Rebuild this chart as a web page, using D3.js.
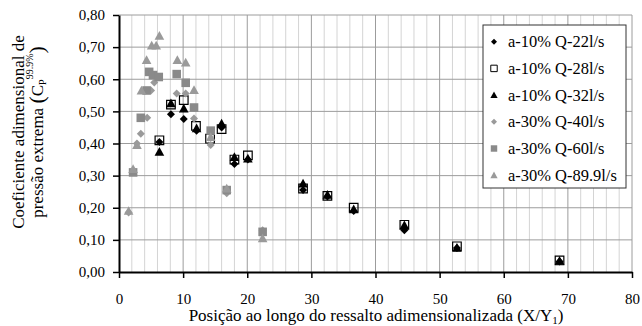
<!DOCTYPE html>
<html>
<head>
<meta charset="utf-8">
<script src="https://cdn.jsdelivr.net/npm/d3@7"></script>
<style>
  body { margin: 0; background: #fff; }
</style>
</head>
<body>
<svg id="chart" width="642" height="326"></svg>
<script>
// series data [X/Y1, Cp 99.9%]
const q22 = [[6.3,0.405],[8.1,0.491],[10.1,0.476],[12.1,0.44],[16.0,0.45],[18.0,0.336],[20.1,0.35],[28.7,0.255],[32.5,0.235],[36.6,0.19],[44.5,0.13],[52.7,0.075],[68.7,0.033]];
const q28 = [[6.3,0.41],[8.1,0.521],[10.1,0.535],[12.0,0.455],[14.2,0.415],[16.0,0.445],[18.0,0.35],[20.1,0.363],[28.7,0.26],[32.5,0.237],[36.6,0.2],[44.5,0.147],[52.7,0.08],[68.7,0.036]];
const q32 = [[6.3,0.374],[8.1,0.525],[10.1,0.509],[12.1,0.447],[16.0,0.462],[18.0,0.358],[20.1,0.353],[28.7,0.275],[32.5,0.24],[36.6,0.195],[44.5,0.145],[52.7,0.075],[68.7,0.035]];
const q40 = [[1.5,0.185],[2.8,0.40],[3.4,0.43],[4.4,0.48],[5.0,0.565],[5.5,0.59],[9.0,0.556],[10.4,0.556],[11.7,0.478],[14.3,0.395],[16.8,0.245],[22.4,0.13]];
const q60 = [[2.2,0.31],[3.4,0.48],[4.3,0.565],[4.7,0.623],[5.3,0.613],[6.2,0.607],[9.0,0.616],[10.4,0.589],[11.7,0.512],[14.3,0.44],[16.8,0.255],[22.4,0.125]];
const q899 = [[1.5,0.19],[2.2,0.32],[2.8,0.395],[3.5,0.565],[4.3,0.66],[5.1,0.705],[5.8,0.705],[6.3,0.735],[9.1,0.66],[10.4,0.652],[11.7,0.566],[14.3,0.42],[16.8,0.26],[22.4,0.105]];

const seriesNames = ["a-10% Q-22l/s", "a-10% Q-28l/s", "a-10% Q-32l/s", "a-30% Q-40l/s", "a-30% Q-60l/s", "a-30% Q-89.9l/s"];
const xTicks = [0, 10, 20, 30, 40, 50, 60, 70, 80];
const yTicks = [0, 0.1, 0.2, 0.3, 0.4, 0.5, 0.6, 0.7, 0.8];

const serif = "'Liberation Serif'";

const series = [
    { name: seriesNames[0], data: q22, shape: "diamond", fill: "#000", stroke: "none" },
    { name: seriesNames[1], data: q28, shape: "square", fill: "none", stroke: "#000" },
    { name: seriesNames[2], data: q32, shape: "triangle", fill: "#000", stroke: "none" },
    { name: seriesNames[3], data: q40, shape: "diamond", fill: "#9a9a9a", stroke: "none" },
    { name: seriesNames[4], data: q60, shape: "square", fill: "#8a8a8a", stroke: "none" },
    { name: seriesNames[5], data: q899, shape: "triangle", fill: "#9a9a9a", stroke: "none" }
];

const svg = d3.select("#chart");
const margens = { left: 119, right: 10, top: 15, bottom: 54 };
const width = 642, height = 326;

const x = d3.scaleLinear().domain([0, 80]).range([margens.left, width - margens.right]);
const y = d3.scaleLinear().domain([0, 0.8]).range([height - margens.bottom, margens.top]);

// grid
const grid = svg.append("g");
grid.selectAll(".vminor")
    .data(d3.range(2, 81, 2).filter(v => v % 10 !== 0))
    .join("line")
    .attr("x1", d => x(d)).attr("x2", d => x(d))
    .attr("y1", y(0)).attr("y2", y(0.8))
    .attr("stroke", "#d4d4d4").attr("stroke-width", 1);
grid.selectAll(".vmajor")
    .data(xTicks.slice(1))
    .join("line")
    .attr("class", "vmajor")
    .attr("x1", d => x(d)).attr("x2", d => x(d))
    .attr("y1", y(0)).attr("y2", y(0.8))
    .attr("stroke", "#9c9c9c").attr("stroke-width", 1);
grid.selectAll(".hline")
    .data(yTicks.slice(1))
    .join("line")
    .attr("class", "hline")
    .attr("x1", x(0)).attr("x2", x(80))
    .attr("y1", d => y(d)).attr("y2", d => y(d))
    .attr("stroke", "#9c9c9c").attr("stroke-width", 1);

// axes
const xAxis = svg.append("g")
    .attr("transform", `translate(0, ${y(0)})`)
    .call(d3.axisBottom(x).tickValues(xTicks).tickSize(6).tickSizeOuter(0));
const yAxis = svg.append("g")
    .attr("transform", `translate(${x(0)}, 0)`)
    .call(d3.axisLeft(y).tickValues(yTicks).tickSize(6).tickSizeOuter(0)
        .tickFormat(v => v.toFixed(2).replace(".", ",")));

[xAxis, yAxis].forEach(g => {
    g.attr("font-family", null);
    g.select(".domain").attr("stroke", "#000").attr("stroke-width", 2);
    g.selectAll(".tick line").attr("stroke", "#000").attr("stroke-width", 1.5);
    g.selectAll(".tick text")
        .style("font-family", serif)
        .style("font-size", "15px")
        .attr("fill", "#000");
});
xAxis.selectAll(".tick text").attr("dy", "1.5em");
yAxis.selectAll(".tick text").attr("x", -14);

function symbolPath(shape, s) {
    if (shape === "diamond") return `M0,${-s}L${s},0L0,${s}L${-s},0Z`;
    if (shape === "square") return `M${-s},${-s}H${s}V${s}H${-s}Z`;
    return `M0,${-s * 1.05}L${s * 1.05},${s * 0.85}H${-s * 1.05}Z`;
}
const markerSize = { diamond: 4, square: 4.3, triangle: 4.6 };

// points
series.forEach(sr => {
    svg.append("g").selectAll("path")
        .data(sr.data)
        .join("path")
        .attr("transform", d => `translate(${x(d[0])}, ${y(d[1])})`)
        .attr("d", symbolPath(sr.shape, markerSize[sr.shape]))
        .attr("fill", sr.fill)
        .attr("stroke", sr.stroke)
        .attr("stroke-width", 1.2);
});

// legend
const legend = svg.append("g").attr("transform", "translate(483, 25)");
legend.append("rect")
    .attr("width", 143).attr("height", 163)
    .attr("fill", "#fff").attr("stroke", "#333").attr("stroke-width", 1);
const items = legend.selectAll(".item")
    .data(series)
    .join("g")
    .attr("class", "item")
    .attr("transform", (d, i) => `translate(11, ${16.7 + i * 26.7})`);
items.append("path")
    .attr("d", d => symbolPath(d.shape, markerSize[d.shape] * 0.75))
    .attr("fill", d => d.fill)
    .attr("stroke", d => d.stroke)
    .attr("stroke-width", 1);
const legendText = items.append("text")
    .attr("x", 14).attr("y", 5.5)
    .style("font-family", serif)
    .style("font-size", "16px")
    .attr("fill", "#000")
    .text(d => d.name);

// size the legend font so the longest entry fills the box as in the picture
const longest = d3.max(legendText.nodes(), n => n.getComputedTextLength());
if (longest > 0) {
    const fs = Math.min(19, 16 * 109 / longest);
    legendText.style("font-size", fs + "px");
}

// axis titles
svg.append("text")
    .attr("x", 376).attr("y", 321)
    .attr("text-anchor", "middle")
    .style("font-family", serif)
    .style("font-size", "17px")
    .html('Posição ao longo do ressalto adimensionalizada (X/Y<tspan font-size="11px" dy="3">1</tspan><tspan dy="-3">)</tspan>');

const yTitle = svg.append("g").attr("transform", "translate(0, 132) rotate(-90)");
yTitle.append("text")
    .attr("x", 0).attr("y", 24)
    .attr("text-anchor", "middle")
    .style("font-family", serif)
    .style("font-size", "17px")
    .text("Coeficiente adimensional de");
yTitle.append("text")
    .attr("x", 0).attr("y", 43)
    .attr("text-anchor", "middle")
    .style("font-family", serif)
    .style("font-size", "17px")
    .html('pressão extrema <tspan font-size="22px" dy="1">(</tspan><tspan dy="-1">C</tspan><tspan font-size="10px" dy="3">P</tspan><tspan font-size="10px" dy="-13">99.9%</tspan><tspan font-size="22px" dy="11">)</tspan>');
</script>
</body>
</html>
